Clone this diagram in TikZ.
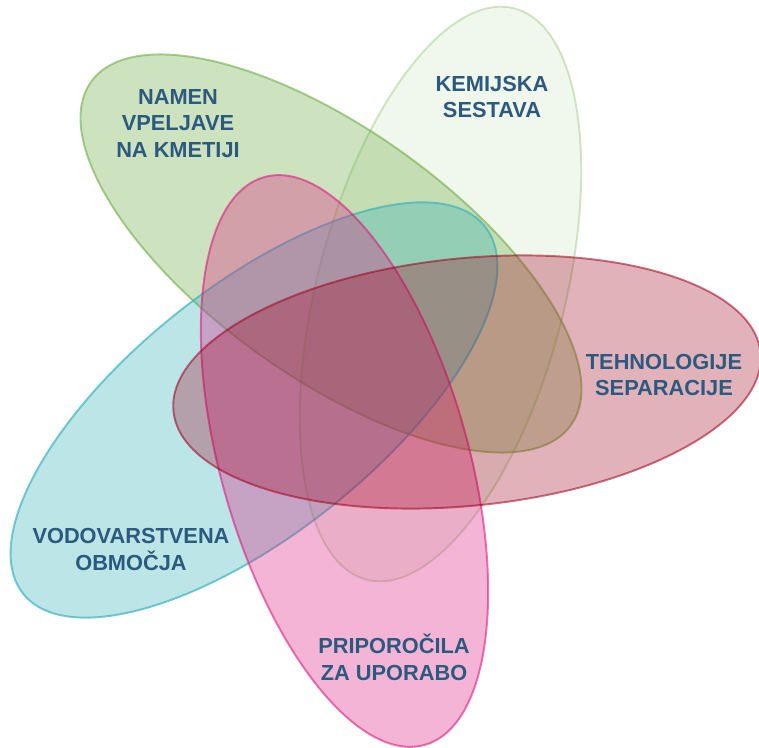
\documentclass[tikz,border=0pt]{standalone}
\usepackage{fontspec}
\setmainfont{Liberation Sans}
\usetikzlibrary{shapes.geometric}
\definecolor{vgreen}{HTML}{70AD47}
\definecolor{vcyan}{HTML}{3CB4BA}
\definecolor{vred}{HTML}{A0001E}
\definecolor{vpink}{HTML}{DE1B7F}
\definecolor{txtblue}{HTML}{2B5A7E}

\begin{document}
\begin{tikzpicture}[
  venn/.style n args={3}{ellipse,draw=#1,fill=#1,fill opacity=#2,draw opacity=#3,line width=1.1pt,inner sep=0pt,minimum width=11.8cm,minimum height=4.95cm},
  lbl/.style={text=txtblue,font=\fontsize{12.4}{15}\selectfont\bfseries,align=center}]
  \useasboundingbox (0,0) rectangle (15.18,14.94);
  \node[venn={vgreen}{0.35}{0.6},rotate=-35.6] (1) at (6.62,9.87) {};
  \node[venn={vgreen}{0.1}{0.3},rotate=75.5] (2) at (8.81,9.06) {};
  \node[venn={vcyan}{0.35}{0.7},rotate=38.5] (5) at (5.08,6.74) {};
  \node[venn={vpink}{0.33}{0.6},rotate=105.8] (4) at (6.89,5.72) {};
  \node[venn={vred}{0.3}{0.55},rotate=5.7] (3) at (9.34,7.30) {};
  \node[lbl] (t1) at (3.56,12.47) {NAMEN\\VPELJAVE\\NA KMETIJI};
  \node[lbl] (t2) at (9.84,13.0) {KEMIJSKA\\SESTAVA};
  \node[lbl] (t3) at (13.28,7.44) {TEHNOLOGIJE\\SEPARACIJE};
  \node[lbl] (t4) at (7.88,1.79) {PRIPOROČILA\\ZA UPORABO};
  \node[lbl] (t5) at (2.62,3.95) {VODOVARSTVENA\\OBMOČJA};
\end{tikzpicture}
\end{document}
